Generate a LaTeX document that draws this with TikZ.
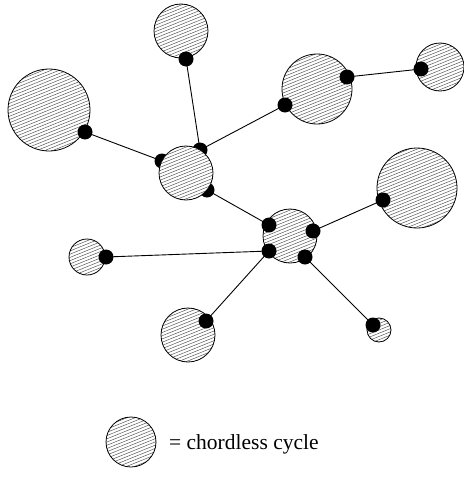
\documentclass[tikz,border=0pt]{standalone}
\usepackage{fontspec}
\setmainfont{Liberation Serif}
\newcommand\hatchc[4]{% name, x, y, r
  \fill[white] (#2,#3) circle (#4);
  \begin{scope}
    \clip (#2,#3) circle (#4);
    \begin{scope}[shift={(#2,#3)},rotate=22]
      \foreach \k in {-16,...,16} \draw[hatch] (-50,\k*3.0) -- (50,\k*3.0);
    \end{scope}
  \end{scope}
  \node[cyc,minimum size=2*#4] (#1) at (#2,#3) {};
}
\begin{document}
\begin{tikzpicture}[x=1pt,y=-1pt,
  dot/.style={circle,fill=black,inner sep=0pt,minimum size=15pt},
  link/.style={line width=0.9pt},
  hatch/.style={gray!60!black,line width=0.45pt},
  cyc/.style={circle,draw,line width=0.8pt,inner sep=0pt}]
\useasboundingbox (0,0) rectangle (463,479);

% dot positions
\coordinate (dA) at (186,59);
\coordinate (dB) at (85,132);
\coordinate (dC1) at (285,105);
\coordinate (dC2) at (347,77);
\coordinate (dD) at (421,69);
\coordinate (dH1) at (162,161);
\coordinate (dH2) at (200,150);
\coordinate (dH3) at (207,190);
\coordinate (dE) at (383,200);
\coordinate (dG1) at (269,225);
\coordinate (dG2) at (313,231);
\coordinate (dG3) at (269,251);
\coordinate (dG4) at (305,257);
\coordinate (dF) at (106,257);
\coordinate (dI) at (206,321);
\coordinate (dJ) at (373,325);

% connectors
\draw[link] (dA) -- (dH2);
\draw[link] (dB) -- (dH1);
\draw[link] (dC1) -- (dH2);
\draw[link] (dC2) -- (dD);
\draw[link] (dH3) -- (dG1);
\draw[link] (dE) -- (dG2);
\draw[link] (dF) -- (dG3);
\draw[link] (dI) -- (dG3);
\draw[link] (dJ) -- (dG4);

% dots hidden behind hub circle
\node[dot] (nH1) at (dH1) {};
\node[dot] (nH2) at (dH2) {};
\node[dot] (nH3) at (dH3) {};

% chordless cycles
\hatchc{cA}{181}{31}{27}
\hatchc{cB}{49}{110}{41}
\hatchc{cC}{317}{89}{35}
\hatchc{cD}{440}{67}{24}
\hatchc{cH}{186}{173}{27}
\hatchc{cE}{417}{188}{40}
\hatchc{cG}{290}{236}{27}
\hatchc{cF}{87}{257}{18}
\hatchc{cI}{188}{335}{27}
\hatchc{cJ}{379}{330}{12}
\hatchc{cL}{131}{442}{25}

% remaining dots
\node[dot] (nA) at (dA) {};
\node[dot] (nB) at (dB) {};
\node[dot] (nC1) at (dC1) {};
\node[dot] (nC2) at (dC2) {};
\node[dot] (nD) at (dD) {};
\node[dot] (nE) at (dE) {};
\node[dot] (nG1) at (dG1) {};
\node[dot] (nG2) at (dG2) {};
\node[dot] (nG3) at (dG3) {};
\node[dot] (nG4) at (dG4) {};
\node[dot] (nF) at (dF) {};
\node[dot] (nI) at (dI) {};
\node[dot] (nJ) at (dJ) {};

% legend
\node[anchor=west,font=\fontsize{21.5}{25}\selectfont,inner sep=0pt] (lbl) at (169,444) {= chordless cycle};
\end{tikzpicture}
\end{document}
